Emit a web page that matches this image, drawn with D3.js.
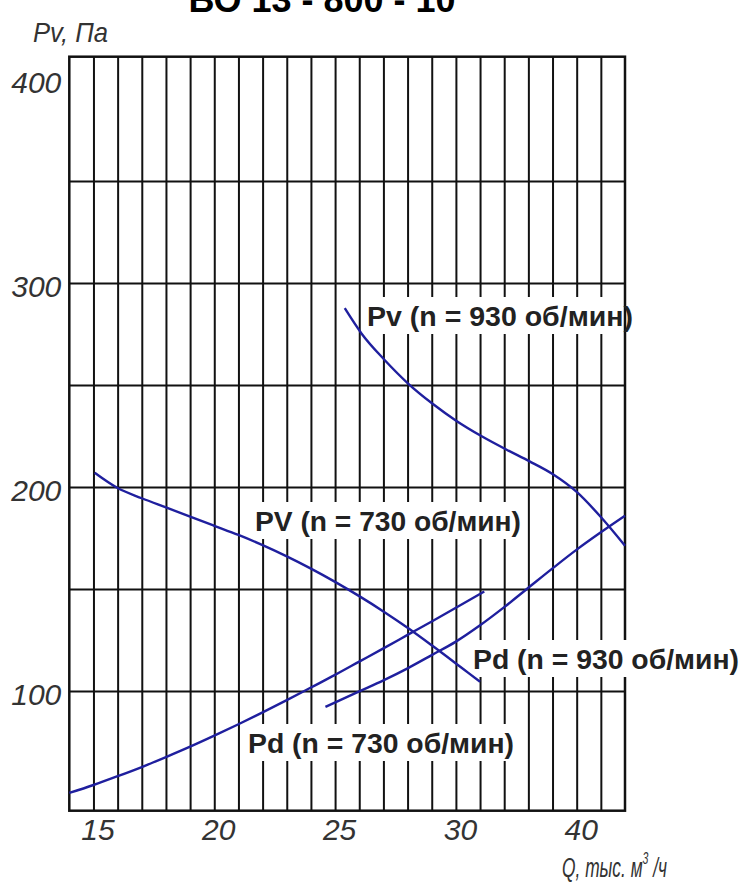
<!DOCTYPE html>
<html lang="ru">
<head>
<meta charset="utf-8">
<script src="https://d3js.org/d3.v7.min.js"></script>
<style>
  body { margin: 0; background: #fff; }
  .tick text { font-family: "Liberation Sans Narrow", "Liberation Sans", sans-serif; font-style: italic; fill: #333; }
</style>
</head>
<body>
<svg id="chart" width="746" height="886"></svg>
<script>
var title = "ВО 13 - 800 - 10";

// Q, тыс. м3/ч  /  P, Па
var qPv730 = [15.05, 16, 17, 18, 19, 20, 21, 22, 23, 24, 25, 26, 27, 28, 29, 30, 31, 32];
var pPv730 = [207, 199.5, 194.5, 190, 185.5, 181, 176.5, 171.5, 166, 160, 153.5, 146.5, 139, 131, 122.4, 113.5, 109, 104.5];

var qPv930 = [25.4, 26.1, 27.05, 28, 29.05, 30.05, 32.1, 34.2, 36.1, 38, 40, 42, 44];
var pPv930 = [287.7, 275.2, 262.3, 251, 240.7, 232.4, 225, 218.3, 212.6, 206.4, 197.6, 185.3, 171.2];

var qPd730 = [14, 15, 16, 17, 18, 19, 20, 21, 22, 23, 24, 25, 26, 27, 28, 29, 30, 32.35];
var pPd730 = [50, 53.9, 58.2, 62.7, 67.6, 72.7, 78.1, 83.7, 89.5, 95.5, 101.7, 107.9, 114.4, 120.9, 127.5, 134.1, 140.8, 148.8];

var qPd930 = [24.6, 26, 27, 28, 29, 30, 32, 34, 36, 38, 40, 42, 44];
var pPd930 = [92.2, 99.8, 105.2, 111.1, 117.6, 124.2, 132.2, 141.1, 150.6, 160.1, 169.3, 177.8, 185.9];

var xGrid = [15, 16, 17, 18, 19, 20, 21, 22, 23, 24, 25, 26, 27, 28, 29, 30, 32, 34, 36, 38, 40, 42];
var xTicks = [15, 20, 25, 30, 40];
var yGrid = [100, 150, 200, 250, 300, 350];
var yTicks = [100, 200, 300, 400];

var series = [
  {name: "PV (n = 730 об/мин)", q: qPv730, p: pPv730, lx: 255, ly: 521, w: 272},
  {name: "Pv (n = 930 об/мин)", q: qPv930, p: pPv930, lx: 367, ly: 316, w: 254},
  {name: "Pd (n = 730 об/мин)", q: qPd730, p: pPd730, lx: 248, ly: 743, w: 272},
  {name: "Pd (n = 930 об/мин)", q: qPd930, p: pPd930, lx: 473, ly: 659, w: 272}
];

var svg = d3.select("#chart");
var pLeft = 69.3, pRight = 625, pTop = 56.7, pBottom = 810.7;

// the Q axis changes its step after 30 (1 per cell, then 2 per cell)
var x = d3.scaleLinear().domain([14, 30, 44]).range([pLeft, 455.9, pRight]);
var y = d3.scaleLinear().domain([41.3, 411]).range([pBottom, pTop]);

svg.append("text")
    .attr("x", 322).attr("y", 12)
    .attr("text-anchor", "middle")
    .attr("font-family", "Liberation Sans, Arial, sans-serif")
    .attr("font-weight", "bold")
    .attr("font-size", 36)
    .text(title);

// grid
svg.append("g")
    .attr("transform", `translate(0, ${pBottom})`)
    .call(d3.axisBottom(x).tickValues(xGrid).tickSize(-(pBottom - pTop)).tickFormat(""))
    .call(g => g.select(".domain").remove())
    .selectAll("line").attr("stroke", "#111").attr("stroke-width", 2);

svg.append("g")
    .attr("transform", `translate(${pLeft}, 0)`)
    .call(d3.axisLeft(y).tickValues(yGrid).tickSize(-(pRight - pLeft)).tickFormat(""))
    .call(g => g.select(".domain").remove())
    .selectAll("line").attr("stroke", "#111").attr("stroke-width", 2);

// frame
svg.append("rect")
    .attr("x", pLeft).attr("y", pTop)
    .attr("width", pRight - pLeft).attr("height", pBottom - pTop)
    .attr("fill", "none").attr("stroke", "#111").attr("stroke-width", 2.5);

// tick labels
svg.append("g")
    .attr("transform", `translate(${pLeft}, 0)`)
    .call(d3.axisLeft(y).tickValues(yTicks).tickSize(0).tickPadding(8))
    .call(g => g.select(".domain").remove())
    .selectAll("text").attr("font-size", 30).attr("dy", "0.45em");

svg.append("g")
    .attr("transform", `translate(0, ${pBottom})`)
    .call(d3.axisBottom(x).tickValues(xTicks).tickSize(0).tickPadding(8).tickFormat(d3.format("d")))
    .call(g => g.select(".domain").remove())
    .selectAll("text").attr("font-size", 30).attr("x", 4);

// axis titles
var axisFont = "Liberation Sans Narrow, Liberation Sans, sans-serif";
svg.append("text")
    .attr("x", 33).attr("y", 42)
    .attr("font-family", axisFont).attr("font-style", "italic")
    .attr("font-size", 28).attr("fill", "#333")
    .attr("textLength", 75).attr("lengthAdjust", "spacingAndGlyphs")
    .text("Pv, Па");

var qt = svg.append("text")
    .attr("transform", "translate(562, 877) scale(0.62, 1)")
    .attr("font-family", axisFont).attr("font-style", "italic")
    .attr("font-size", 28).attr("fill", "#333");
qt.append("tspan").text("Q, тыс. м");
qt.append("tspan").attr("font-size", 17).attr("dy", -13).text("3");
qt.append("tspan").attr("dy", 13).text(" /ч");

// curves
var line = d3.line()
    .x(d => x(d[0]))
    .y(d => y(d[1]))
    .curve(d3.curveMonotoneX);

var lab = svg.append("g");
series.forEach(function(s) {
  lab.append("rect")
      .attr("x", s.lx - 3).attr("y", s.ly - 19)
      .attr("width", s.w).attr("height", 37)
      .attr("fill", "#fff");
});

svg.selectAll("path.curve")
  .data(series)
  .enter()
  .append("path")
    .attr("class", "curve")
    .attr("d", s => line(d3.zip(s.q, s.p)))
    .attr("fill", "none")
    .attr("stroke", "#1f1f9e")
    .attr("stroke-width", 2.4);

series.forEach(function(s) {
  svg.append("text")
      .attr("x", s.lx).attr("y", s.ly + 9.5)
      .attr("font-family", "Liberation Sans, Arial, sans-serif")
      .attr("font-weight", "bold")
      .attr("font-size", 27)
      .attr("fill", "#222")
      .attr("textLength", 266).attr("lengthAdjust", "spacingAndGlyphs")
      .text(s.name);
});
</script>
</body>
</html>
